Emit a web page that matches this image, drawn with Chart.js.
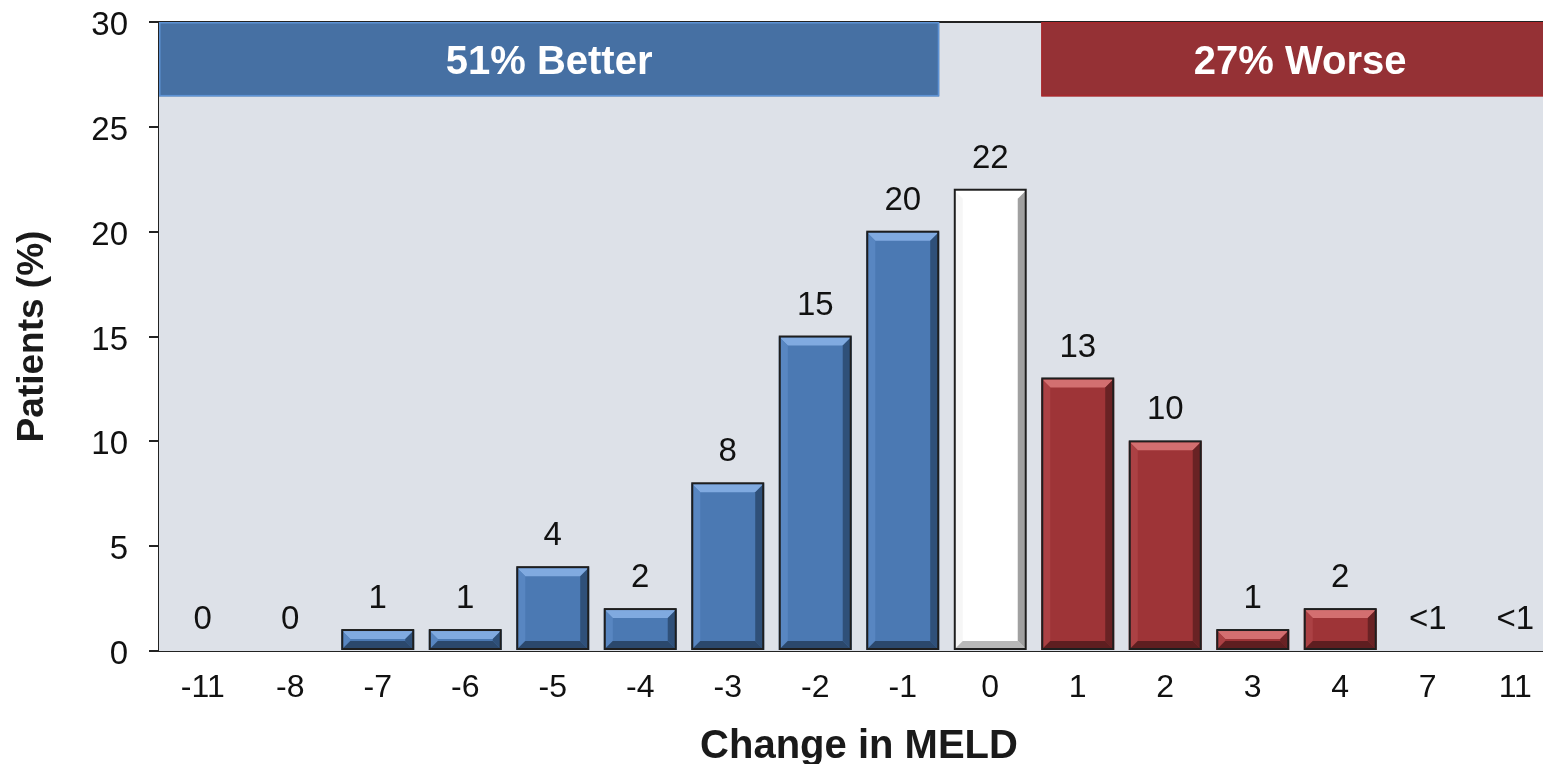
<!DOCTYPE html>
<html>
<head>
<meta charset="utf-8">
<script src="https://cdn.jsdelivr.net/npm/chart.js@4"></script>
<style>
  html, body { margin: 0; padding: 0; background: #fff; overflow: hidden; }
  #wrap { width: 1560px; height: 764px; }
</style>
</head>
<body>
<div id="wrap"><canvas id="mychart" width="1560" height="764"></canvas></div>
<script>
// data
const categories = ['-11', '-8', '-7', '-6', '-5', '-4', '-3', '-2', '-1', '0', '1', '2', '3', '4', '7', '11'];
const patients = [0, 0, 1, 1, 4, 2, 8, 15, 20, 22, 13, 10, 1, 2, 0, 0];
const valueLabels = ['0', '0', '1', '1', '4', '2', '8', '15', '20', '22', '13', '10', '1', '2', '<1', '<1'];
const yTicks = [0, 5, 10, 15, 20, 25, 30];
const bannerTexts = ['51% Better', '27% Worse'];
const bannerFrom = 26.45; // banner bottom on the y axis

const BLUE = '#4b79b3', RED = '#9e3437', WHITE = '#ffffff';

function barColor(cat) {
  const n = Number(cat);
  if (n < 0) return BLUE;
  if (n > 0) return RED;
  return WHITE;
}

// grey plot background + top frame line
const plotBg = {
  id: 'plotBg',
  beforeDatasetsDraw(chart) {
    const { ctx, chartArea: a } = chart;
    ctx.save();
    ctx.fillStyle = '#dde1e8';
    ctx.fillRect(a.left, a.top, a.right - a.left, a.bottom - a.top);
    ctx.strokeStyle = '#222';
    ctx.lineWidth = 2;
    ctx.beginPath();
    ctx.moveTo(a.left, a.top);
    ctx.lineTo(a.right, a.top);
    ctx.stroke();
    ctx.restore();
  }
};

// bevel look on the bars
function poly(ctx, pts, fill) {
  ctx.beginPath();
  ctx.moveTo(pts[0][0], pts[0][1]);
  for (let i = 1; i < pts.length; i++) ctx.lineTo(pts[i][0], pts[i][1]);
  ctx.closePath();
  ctx.fillStyle = fill;
  ctx.fill();
}

const bevel = {
  id: 'bevel',
  afterDatasetsDraw(chart) {
    const { ctx } = chart;
    const meta = chart.getDatasetMeta(0);
    ctx.save();
    meta.data.forEach((bar, i) => {
      const h = bar.base - bar.y;
      if (h < 3) return;
      const l = bar.x - bar.width / 2 + 1, r = bar.x + bar.width / 2 - 1;
      const t = bar.y + 1, b = bar.base - 1;
      const s = Math.min(8, h / 2 - 1);
      const c = barColor(categories[i]);
      let top, left, right, bottom;
      if (c === BLUE) { top = '#80aae0'; left = '#5886c1'; right = '#2f5079'; bottom = '#2b486c'; }
      else if (c === RED) { top = '#d36f70'; left = '#ab4144'; right = '#692224'; bottom = '#5e1e20'; }
      else { top = '#ffffff'; left = '#f6f6f6'; right = '#a0a0a0'; bottom = '#b8b8b8'; }
      poly(ctx, [[l, t], [r, t], [r - s, t + s], [l + s, t + s]], top);
      poly(ctx, [[l, t], [l + s, t + s], [l + s, b - s], [l, b]], left);
      poly(ctx, [[r, t], [r, b], [r - s, b - s], [r - s, t + s]], right);
      poly(ctx, [[l, b], [r, b], [r - s, b - s], [l + s, b - s]], bottom);
      ctx.strokeStyle = '#1e1e1e';
      ctx.lineWidth = 2;
      ctx.strokeRect(l, t - 1, r - l, b - t + 1);
    });
    ctx.restore();
  }
};

// value labels + banners
const overlay = {
  id: 'overlay',
  afterDraw(chart) {
    const { ctx, chartArea: a } = chart;
    const y = chart.scales.y;
    const meta = chart.getDatasetMeta(0);
    ctx.save();
    ctx.font = '33px "Liberation Sans", Arial, sans-serif';
    ctx.fillStyle = '#111';
    ctx.textAlign = 'center';
    ctx.textBaseline = 'middle';
    meta.data.forEach((bar, i) => {
      ctx.fillText(valueLabels[i], bar.x, bar.y - 31);
    });

    const yTop = y.getPixelForValue(30);
    const yBot = y.getPixelForValue(bannerFrom);
    const lastNeg = meta.data[categories.indexOf('-1')];
    const firstPos = meta.data[categories.indexOf('1')];
    const banners = [
      { x0: a.left, x1: lastNeg.x + lastNeg.width / 2, fill: '#4670a3', edge: '#5d92d4', text: bannerTexts[0] },
      { x0: firstPos.x - firstPos.width / 2, x1: a.right, fill: '#953135', edge: '#a8282c', text: bannerTexts[1] }
    ];
    banners.forEach(bn => {
      ctx.fillStyle = bn.fill;
      ctx.fillRect(bn.x0, yTop, bn.x1 - bn.x0, yBot - yTop);
      ctx.strokeStyle = bn.edge;
      ctx.lineWidth = 1.5;
      ctx.strokeRect(bn.x0 + 0.75, yTop + 0.75, bn.x1 - bn.x0 - 1.5, yBot - yTop - 1.5);
      ctx.fillStyle = '#fff';
      ctx.font = 'bold 40px "Liberation Sans", Arial, sans-serif';
      ctx.fillText(bn.text, (bn.x0 + bn.x1) / 2, (yTop + yBot) / 2 + 4);
    });
    ctx.restore();
  }
};

const ctx = document.getElementById('mychart');

new Chart(ctx, {
  type: 'bar',
  data: {
    labels: categories,
    datasets: [{
      data: patients,
      backgroundColor: categories.map(barColor),
      borderColor: '#1e1e1e',
      borderWidth: 0,
      categoryPercentage: 1,
      barPercentage: 0.834
    }]
  },
  options: {
    responsive: false,
    animation: false,
    layout: { padding: { left: 0, top: 22, right: 1, bottom: 0 } },
    plugins: {
      legend: { display: false },
      tooltip: { enabled: false }
    },
    scales: {
      x: {
        afterFit(scale) { scale.height = 113; scale.paddingLeft = 0; scale.paddingRight = 0; },
        grid: { display: false, drawTicks: false },
        border: { display: true, color: '#222', width: 2 },
        ticks: {
          padding: 18,
          color: '#111',
          font: { family: '"Liberation Sans", Arial, sans-serif', size: 32 }
        },
        title: {
          display: true,
          text: 'Change in MELD',
          color: '#1a1a1a',
          padding: 0,
          font: { family: '"Liberation Sans", Arial, sans-serif', size: 40, weight: 'bold', lineHeight: 0.85 }
        }
      },
      y: {
        min: 0,
        max: 30,
        afterFit(scale) { scale.width = 159; scale.paddingTop = 0; scale.paddingBottom = 0; },
        afterBuildTicks(scale) { scale.ticks = yTicks.map(v => ({ value: v })); },
        grid: { drawOnChartArea: false, drawTicks: true, tickLength: 10, color: '#222', lineWidth: 2 },
        border: { display: true, color: '#222', width: 2 },
        ticks: {
          padding: 21,
          labelOffset: 4,
          color: '#111',
          font: { family: '"Liberation Sans", Arial, sans-serif', size: 33 }
        },
        title: {
          display: true,
          text: 'Patients (%)',
          color: '#1a1a1a',
          padding: 11,
          font: { family: '"Liberation Sans", Arial, sans-serif', size: 37, weight: 'bold' }
        }
      }
    }
  },
  plugins: [plotBg, bevel, overlay]
});
</script>
</body>
</html>
